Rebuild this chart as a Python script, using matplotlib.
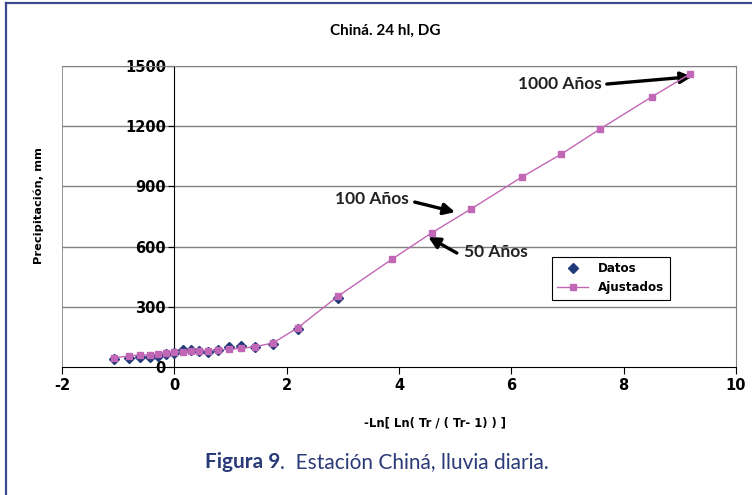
"""Gumbel-type fit of daily rainfall, Chiná station."""

import matplotlib.pyplot as plt
from matplotlib.lines import Line2D

# reduced variate of the observed sample
x_datos = [-1.08, -0.81, -0.61, -0.44, -0.29, -0.14, 0.00, 0.15, 0.29,
           0.44, 0.60, 0.78, 0.97, 1.19, 1.44, 1.76, 2.20, 2.92]
y_datos = [40, 43, 51, 51, 56, 63, 68, 85, 85,
           80, 76, 85, 101, 105, 101, 113, 190, 345]

# fitted values (sample positions plus extrapolated return periods)
x_ajust = x_datos + [3.88, 4.58, 5.28, 6.19, 6.89, 7.58, 8.50, 9.19]
y_ajust = [46, 55, 60, 60, 65, 68, 73, 76, 80,
           81, 81, 86, 88, 93, 101, 120, 196, 354,
           538, 668, 787, 947, 1061, 1186, 1346, 1462]

x_ticks = [-2, 0, 2, 4, 6, 8, 10]
y_ticks = [0, 300, 600, 900, 1200, 1500]

# (label, label x, label y, arrow tail x, tail y, arrow head x, head y)
ANNOTATIONS = [
    ("1000 Años", 6.87, 1410, 7.70, 1410, 9.22, 1447),
    ("100 Años", 3.52, 837, 4.28, 822, 5.00, 772),
    ("50 Años", 5.73, 573, 5.03, 568, 4.52, 648),
]

PINK = "#C266B6"
NAVY = "#1F3B7A"
GRID = "#808080"
CAPTION = "#2B3A78"


def main() -> None:
    fig = plt.figure(figsize=(7.52, 4.95), dpi=100)
    ax = fig.add_axes([0.0824, 0.2586, 0.8963, 0.6081])

    ax.plot(x_datos, y_datos, linestyle="none", marker="D", markersize=5,
            color=NAVY, label="Datos", zorder=3)
    ax.plot(x_ajust, y_ajust, linestyle="-", linewidth=1, marker="s",
            markersize=5, color=PINK, label="Ajustados", zorder=4)

    # value axis crosses at x = 0, like the spreadsheet original
    ax.spines["left"].set_position(("data", 0))
    ax.spines["left"].set_color("black")
    ax.spines["bottom"].set_color("black")
    for side in ("top", "right"):
        ax.spines[side].set_color(GRID)
    ax.axvline(-2, color=GRID, linewidth=1.2, zorder=1)
    for y in y_ticks[1:]:
        ax.axhline(y, color=GRID, linewidth=1, zorder=1)

    ax.set_xlim(-2, 10)
    ax.set_ylim(0, 1500)
    ax.set_xticks(x_ticks)
    ax.set_yticks(y_ticks)
    ax.set_xticklabels([str(t) for t in x_ticks], fontweight="bold", fontsize=10.5)
    ax.set_yticklabels([str(t) for t in y_ticks], fontweight="bold", fontsize=10.5)
    ax.tick_params(axis="x", direction="out", length=5, pad=3, colors="black")
    ax.tick_params(axis="y", direction="out", length=4, pad=2, colors="black")

    fig.text(0.578, 0.146, "-Ln[ Ln( Tr / ( Tr- 1) ) ]", ha="center", va="center",
             fontweight="bold", fontsize=8.4)
    fig.text(0.052, 0.585, "Precipitación, mm", rotation=90, ha="center", va="center",
             fontweight="bold", fontsize=8.2)

    fig.text(0.512, 0.937, "Chiná. 24 hl, DG", ha="center", va="center",
             family="Lato", fontweight="bold", fontsize=11)

    for label, lx, ly, ax0, ay0, ax1, ay1 in ANNOTATIONS:
        ax.text(lx, ly, label, ha="center", va="center", family="Lato",
                fontweight="bold", fontsize=12.5, color="#222222")
        ax.annotate("", xy=(ax1, ay1), xytext=(ax0, ay0),
                    arrowprops=dict(arrowstyle="-|>", color="black", lw=2.4,
                                    mutation_scale=17, shrinkA=0, shrinkB=0))

    leg = ax.legend(loc="upper left", bbox_to_anchor=(0.727, 0.365), fancybox=False,
                    edgecolor="black", framealpha=1, borderpad=0.45, borderaxespad=0,
                    handlelength=2.6, prop={"weight": "bold", "size": 8.6})
    leg.get_frame().set_linewidth(0.8)

    # caption below the chart: bold lead-in, regular remainder right after it
    lead = fig.text(0.272, 0.067, "Figura 9", ha="left", va="center", family="Lato",
                    fontweight="bold", fontsize=15, color=CAPTION)
    fig.canvas.draw()
    bbox = lead.get_window_extent().transformed(fig.transFigure.inverted())
    fig.text(bbox.x1, 0.067, ".  Estación Chiná, lluvia diaria.", ha="left", va="center",
             family="Lato", fontsize=15, color=CAPTION)

    # frame around the figure panel
    border = dict(color="#3B4A8C", linewidth=1.6, transform=fig.transFigure)
    fig.add_artist(Line2D([0.008, 0.008], [0.0, 0.994], **border))
    fig.add_artist(Line2D([0.008, 1.0], [0.994, 0.994], **border))

    fig.savefig("out.png", dpi=100)


if __name__ == "__main__":
    main()
